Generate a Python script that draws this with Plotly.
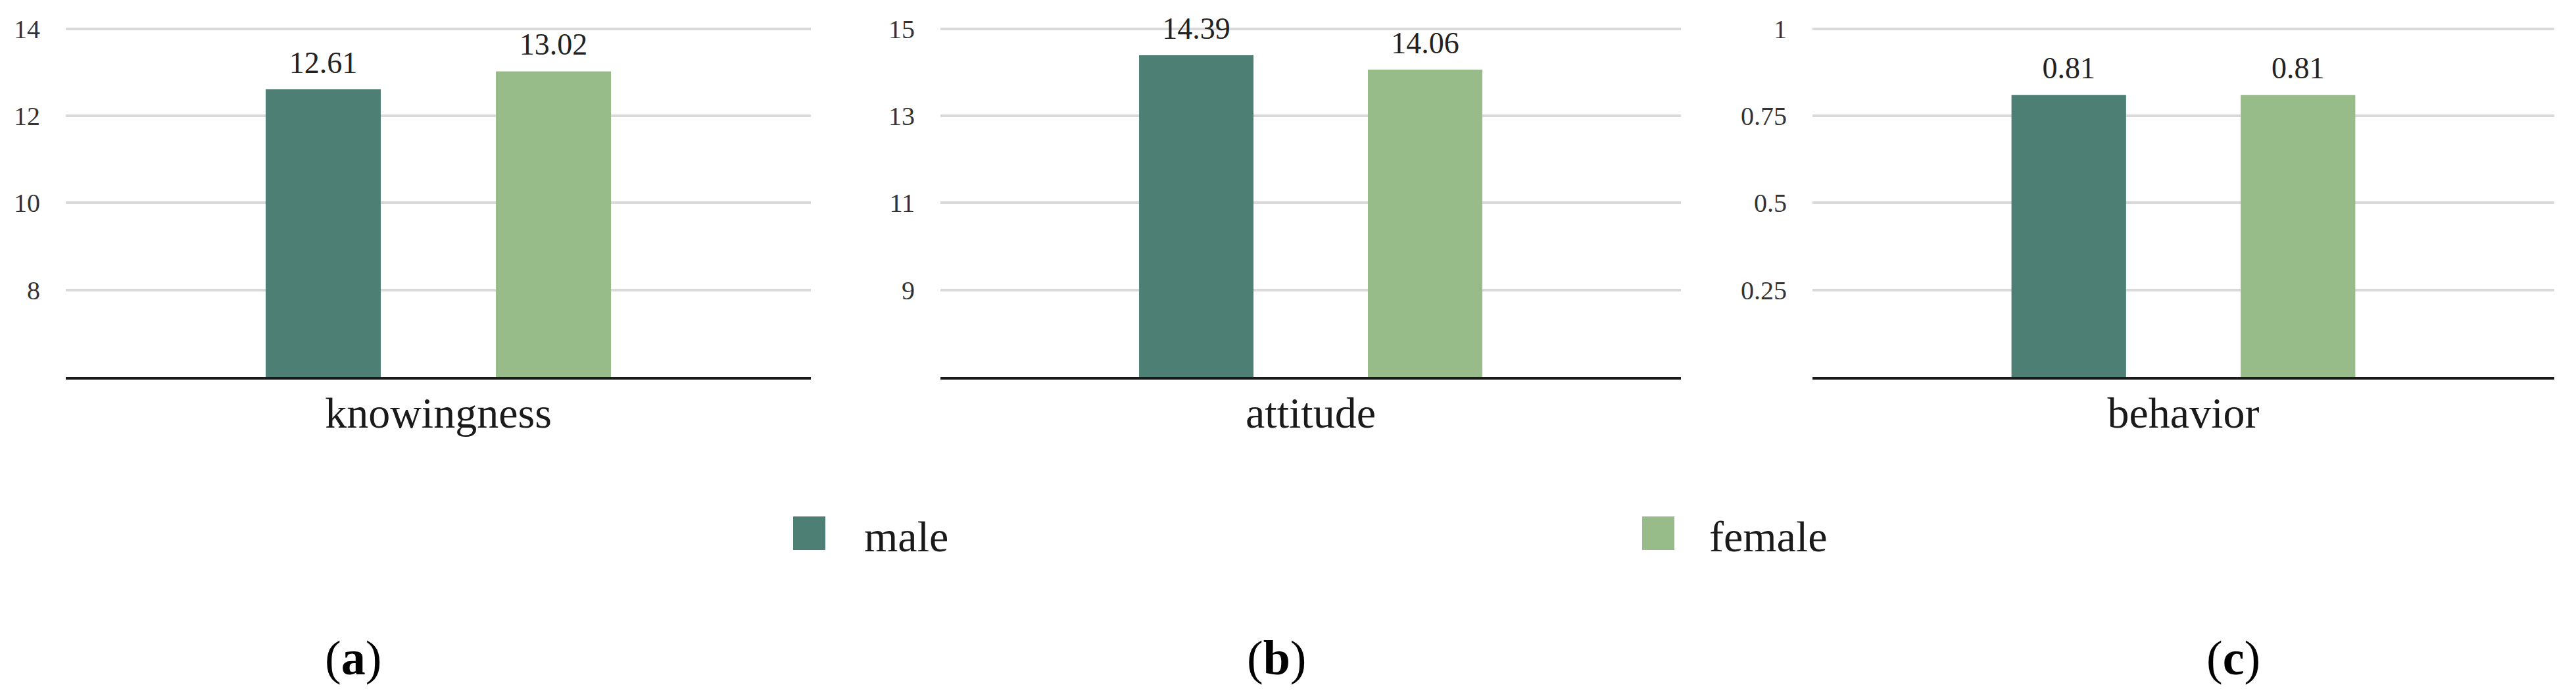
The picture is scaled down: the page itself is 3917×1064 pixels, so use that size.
import plotly.graph_objects as go

W, H = 3917, 1064

# ---- data ----
categories = ["knowingness", "attitude", "behavior"]
panel_tags = ["a", "b", "c"]
series_names = ["male", "female"]
male_values = [12.61, 14.39, 0.81]
female_values = [13.02, 14.06, 0.81]
y_floor = [6, 7, 0]
y_tickvals = [[8, 10, 12, 14], [9, 11, 13, 15], [0.25, 0.5, 0.75, 1]]
y_ticktext = [["8", "10", "12", "14"], ["9", "11", "13", "15"], ["0.25", "0.5", "0.75", "1"]]

colors = ["#4e7f74", "#97bc89"]
FONT = "Liberation Serif"

# ---- layout geometry (pixels in the 3917x1064 canvas) ----
panel_px = [(100, 1233), (1430, 2556), (2756, 3884)]
top_grid_px, base_px, plot_top_px = 43.6, 573, 4
legend_px = [(1206, 1312), (2497, 2597)]   # swatch left, text left
tag_x_px = [537, 1941, 3396]


def px_x(v):
    return v / W


def px_y(v):
    return 1 - v / H


fig = go.Figure()
series_values = [male_values, female_values]

for i, cat in enumerate(categories):
    ax = "" if i == 0 else str(i + 1)
    for s, name in enumerate(series_names):
        val = series_values[s][i]
        fig.add_trace(go.Bar(
            x=[cat], y=[val], name=name,
            xaxis="x" + ax, yaxis="y" + ax, offsetgroup=name,
            marker=dict(color=colors[s], line=dict(width=0)),
            showlegend=False,
        ))
        # value label, grouped like the bars so it sits over its own bar
        fig.add_trace(go.Scatter(
            x=[cat], y=[val], name=name,
            xaxis="x" + ax, yaxis="y" + ax, offsetgroup=name,
            mode="markers+text", text=[f"{val:.2f}"],
            textposition="top center",
            marker=dict(size=20, opacity=0),
            textfont=dict(family=FONT, size=46, color="#222222"),
            showlegend=False, cliponaxis=False, hoverinfo="skip",
        ))

    # keep the top gridline at the last tick but leave headroom for labels
    top = y_tickvals[i][-1]
    span = top - y_floor[i]
    extent = span * (base_px - plot_top_px) / (base_px - top_grid_px)

    fig.layout["xaxis" + ax] = dict(
        domain=[px_x(panel_px[i][0]), px_x(panel_px[i][1])],
        anchor="y" + ax, type="category",
        showgrid=False, showline=True, linecolor="#1a1a1a", linewidth=4,
        ticks="", ticklabelstandoff=-6,
        tickfont=dict(family=FONT, size=66, color="#1a1a1a"),
    )
    fig.layout["yaxis" + ax] = dict(
        domain=[px_y(base_px), px_y(plot_top_px)],
        anchor="x" + ax,
        range=[y_floor[i], y_floor[i] + extent],
        tickvals=y_tickvals[i], ticktext=y_ticktext[i],
        showgrid=True, gridcolor="#d9d9d9", gridwidth=4,
        zeroline=False, showline=False, ticks="", ticklabelstandoff=38,
        tickfont=dict(family=FONT, size=40, color="#333333"),
    )

    fig.add_annotation(
        x=px_x(tag_x_px[i]), y=px_y(1000), xref="paper", yref="paper",
        text=f"(<b>{panel_tags[i]}</b>)", showarrow=False,
        font=dict(family=FONT, size=74, color="#000000"),
        xanchor="center", yanchor="middle",
    )

# legend drawn by hand so the swatches can be as large as in the figure
for s, name in enumerate(series_names):
    sw, tx = legend_px[s]
    fig.add_shape(
        type="rect", xref="paper", yref="paper",
        x0=px_x(sw), x1=px_x(sw + 49), y0=px_y(836), y1=px_y(785),
        fillcolor=colors[s], line=dict(width=0),
    )
    fig.add_annotation(
        x=px_x(tx), y=px_y(815), xref="paper", yref="paper",
        text=name, showarrow=False, xanchor="left", yanchor="middle",
        font=dict(family=FONT, size=66, color="#1a1a1a"),
    )

fig.update_layout(
    width=W, height=H,
    margin=dict(l=0, r=0, t=0, b=0),
    paper_bgcolor="white", plot_bgcolor="white",
    barmode="group", bargap=0.382, bargroupgap=0.5,
    scattermode="group", scattergap=0.382,
    font=dict(family=FONT),
)

# drop the browser's default page margin so the canvas sits at 0,0
fig.write_html(
    "out.html",
    config={"displayModeBar": False},
    post_script="document.body.style.margin = '0';",
)
